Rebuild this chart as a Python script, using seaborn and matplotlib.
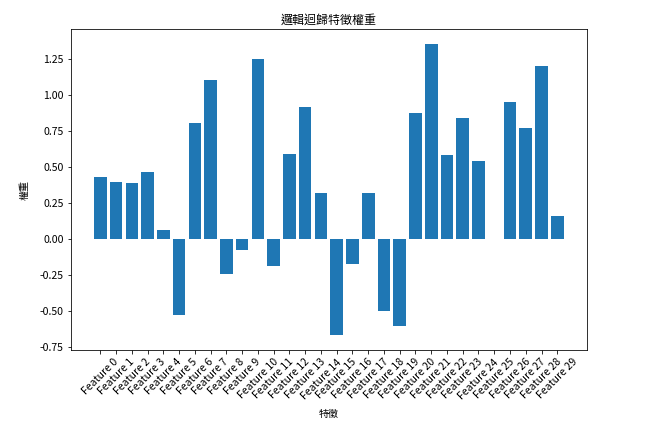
import matplotlib
matplotlib.use("Agg")
import matplotlib.pyplot as plt
import seaborn as sns
import pandas as pd

features = [f"Feature {i}" for i in range(30)]
weights = [0.435, 0.400, 0.394, 0.470, 0.062, -0.523, 0.806, 1.106, -0.238, -0.072,
           1.250, -0.183, 0.590, 0.921, 0.319, -0.667, -0.169, 0.324, -0.500, -0.604,
           0.875, 1.356, 0.583, 0.840, 0.546, 0.000, 0.951, 0.775, 1.201, 0.164]

title = "邏輯迴歸特徵權重"
xlabel = "特徵"
ylabel = "權重"

plt.rcParams["font.family"] = ["Noto Sans CJK TC", "DejaVu Sans"]
plt.rcParams["axes.unicode_minus"] = False

df = pd.DataFrame({"feature": features, "weight": weights})

fig = plt.figure(figsize=(657 / 72, 432 / 72), dpi=72)
ax = fig.add_axes([0.1075, 0.190, 0.786, 0.742])
sns.barplot(data=df, x="feature", y="weight", color="#1f77b4", saturation=1,
            width=0.8, ax=ax)
n = len(features)
lo, hi = -0.4, n - 1 + 0.4
pad = 0.05 * (hi - lo)
ax.set_xlim(lo - pad, hi + pad)
ax.set_title(title, fontsize=12)
ax.set_xlabel(xlabel, fontsize=10, labelpad=8)
ax.set_ylabel(ylabel, fontsize=10, labelpad=10)
ax.set_yticks([-0.75, -0.5, -0.25, 0, 0.25, 0.5, 0.75, 1.0, 1.25])
ax.set_yticklabels([f"{v:.2f}" for v in ax.get_yticks()])
ax.tick_params(labelsize=10.5)
plt.setp(ax.get_xticklabels(), rotation=45, ha="center")
fig.savefig("out.png", dpi=72)
